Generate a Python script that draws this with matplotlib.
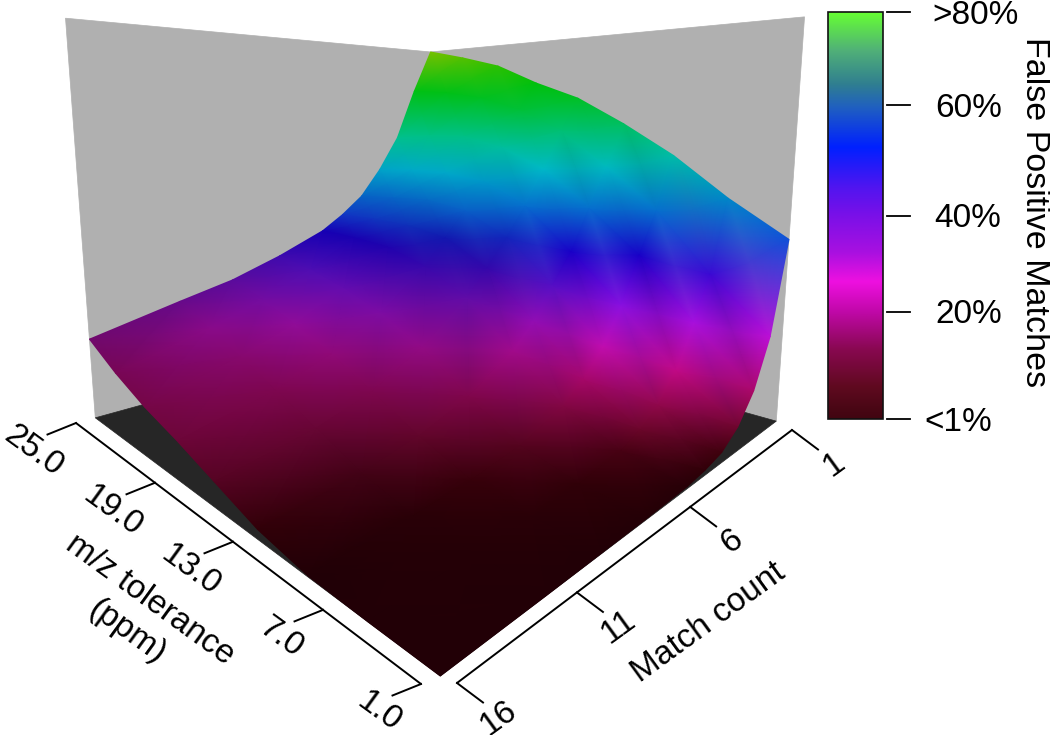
import matplotlib
matplotlib.use("Agg")
import matplotlib.pyplot as plt
from matplotlib.colors import LinearSegmentedColormap
from matplotlib.patches import Polygon, Rectangle
import numpy as np

plt.rcParams["font.family"] = ["Liberation Sans", "DejaVu Sans"]

# --- values ---
tolerance = [25, 22, 19, 16, 13, 10, 7, 4, 1]
match_count = [1, 2, 3, 4, 5, 6, 7, 9, 11, 13, 16]

# surface height, fraction of the box: rows follow match_count, columns follow tolerance
height = np.array([
    [1.00, 0.97, 0.935, 0.875, 0.825, 0.75, 0.665, 0.56, 0.47],
    [0.86, 0.85, 0.83, 0.79, 0.73, 0.63, 0.52, 0.37, 0.24],
    [0.70, 0.71, 0.71, 0.68, 0.62, 0.52, 0.41, 0.26, 0.125],
    [0.595, 0.60, 0.60, 0.58, 0.52, 0.41, 0.29, 0.155, 0.06],
    [0.51, 0.515, 0.52, 0.50, 0.44, 0.33, 0.20, 0.09, 0.025],
    [0.455, 0.455, 0.45, 0.43, 0.365, 0.25, 0.135, 0.055, 0.012],
    [0.41, 0.405, 0.395, 0.36, 0.30, 0.19, 0.09, 0.03, 0.005],
    [0.35, 0.33, 0.30, 0.26, 0.20, 0.115, 0.045, 0.012, 0.002],
    [0.30, 0.27, 0.23, 0.185, 0.13, 0.07, 0.022, 0.006, 0.001],
    [0.265, 0.22, 0.18, 0.135, 0.09, 0.04, 0.01, 0.002, 0.0],
    [0.21, 0.16, 0.12, 0.09, 0.055, 0.02, 0.002, 0.0, 0.0],
])

# how dark the lighting makes each point of the surface
shade = np.array([
    [1.00, 1.00, 1.00, 1.00, 1.00, 1.00, 1.00, 1.00, 1.00],
    [1.00, 1.00, 1.00, 1.00, 1.00, 1.00, 1.00, 1.00, 1.00],
    [1.00, 1.00, 1.00, 1.00, 1.00, 1.00, 1.00, 1.00, 1.00],
    [1.00, 1.00, 1.00, 1.00, 1.00, 1.00, 1.00, 1.00, 1.00],
    [0.95, 0.95, 0.95, 0.95, 0.90, 0.88, 0.95, 1.00, 1.00],
    [0.92, 0.90, 0.88, 0.85, 0.80, 0.82, 0.92, 1.00, 1.00],
    [0.90, 0.88, 0.85, 0.80, 0.75, 0.80, 0.90, 1.00, 1.00],
    [0.80, 0.80, 0.78, 0.74, 0.72, 0.78, 0.90, 1.00, 1.00],
    [0.70, 0.72, 0.72, 0.72, 0.72, 0.78, 0.90, 1.00, 1.00],
    [0.62, 0.66, 0.68, 0.70, 0.72, 0.78, 0.90, 1.00, 1.00],
    [0.55, 0.62, 0.70, 0.75, 0.80, 0.85, 0.90, 1.00, 1.00],
])

tol_ticks = [25.0, 19.0, 13.0, 7.0, 1.0]
tol_tick_pos = [0.0, 0.229, 0.455, 0.716, 1.0]
match_ticks = [16, 11, 6, 1]
match_tick_pos = [0.0, 0.358, 0.696, 1.0]
bar_labels = ["<1%", "20%", "40%", "60%", ">80%"]
bar_label_pos = [0.0, 0.263, 0.50, 0.771, 1.0]

# height -> colour on the surface
surface_stops = [
    (0.00, "#220006"), (0.02, "#3a000a"), (0.07, "#800838"), (0.15, "#c00880"),
    (0.22, "#d010d0"), (0.27, "#a010e0"), (0.33, "#6010e0"), (0.41, "#1800c8"),
    (0.47, "#1050d8"), (0.55, "#0080c8"), (0.62, "#00b8c8"), (0.70, "#00c090"),
    (0.80, "#00c030"), (0.90, "#00c000"), (1.00, "#78c000"),
]
bar_stops = [
    (0.0, "#400510"), (0.08, "#600a20"), (0.17, "#880850"), (0.263, "#c008a8"),
    (0.337, "#ee10e0"), (0.41, "#a810e0"), (0.50, "#7a10e8"), (0.57, "#5015f0"),
    (0.668, "#0020ff"), (0.767, "#2060c0"), (0.824, "#307f90"), (0.906, "#50b078"),
    (1.0, "#66ff33"),
]
surface_cmap = LinearSegmentedColormap.from_list("surface", surface_stops, N=512)
bar_cmap = LinearSegmentedColormap.from_list("bar", bar_stops, N=512)

# --- camera: box corners (u=tolerance, v=match, w=height) and where they land on screen ---
CORNERS = [
    ((1, 0, 0), (95, 418)), ((0, 0, 0), (440, 676)), ((0, 1, 0), (776, 421)),
    ((1, 1, 0), (432, 325)), ((1, 0, 1), (66, 18)), ((0, 1, 1), (805, 17)),
    ((1, 1, 1), (430, 52)),
]


def fit_camera(corners):
    rows, rhs = [], []
    for (u, v, w), (x, y) in corners:
        rows.append([u, v, w, 1, 0, 0, 0, 0, -x * u, -x * v, -x * w])
        rows.append([0, 0, 0, 0, u, v, w, 1, -y * u, -y * v, -y * w])
        rhs += [x, y]
    p = np.linalg.lstsq(np.array(rows, float), np.array(rhs, float), rcond=None)[0]
    return np.append(p, 1).reshape(3, 4)


CAMERA = fit_camera(CORNERS)


def project(u, v, w):
    u, v, w = np.asarray(u, float), np.asarray(v, float), np.asarray(w, float)
    pts = [CAMERA[i, 0] * u + CAMERA[i, 1] * v + CAMERA[i, 2] * w + CAMERA[i, 3] for i in range(3)]
    return pts[0] / pts[2], pts[1] / pts[2]


def tol_to_u(t):
    return (np.asarray(t, float) - 1) / 24


def match_to_v(m):
    return (16 - np.asarray(m, float)) / 15


fig = plt.figure(figsize=(10.5, 7.35), dpi=100)
ax = fig.add_axes([0, 0, 1, 1])
ax.axis("off")

# walls and floor
for face, col in [
    ([(1, 0, 0), (1, 1, 0), (1, 1, 1), (1, 0, 1)], "#b0b0b0"),
    ([(0, 1, 0), (1, 1, 0), (1, 1, 1), (0, 1, 1)], "#b0b0b0"),
    ([(1, 0, 0), (0, 0, 0), (0, 1, 0), (1, 1, 0)], "#262626"),
]:
    xy = np.column_stack(project(*np.array(face).T))
    ax.add_patch(Polygon(xy, closed=True, facecolor=col, edgecolor=col, lw=0.5))

# surface, back to front
U, V = np.meshgrid(tol_to_u(tolerance), match_to_v(match_count))
X, Y = project(U, V, height)
rgb = surface_cmap(height)[..., :3] * shade[..., None]
ax.pcolormesh(X, Y, rgb, shading="gouraud", rasterized=True)

# tolerance axis, ticks are spaced along the drawn line
for t, f in zip(tol_ticks, tol_tick_pos):
    x, y = 76 + 345 * f, 423 + 261 * f
    ax.plot([x, x - 28.5], [y, y + 11.5], color="black", lw=1.4)
    ax.text(x - 42, y + 28, f"{t:.1f}", fontsize=24, rotation=-36, ha="center", va="center",
            rotation_mode="anchor")
ax.plot([76, 421], [423, 684], color="black", lw=1.4, solid_capstyle="round")
ax.text(150, 600, "m/z tolerance", fontsize=24, rotation=-36, ha="center", va="center",
        rotation_mode="anchor")
ax.text(127, 632, "(ppm)", fontsize=24, rotation=-36, ha="center", va="center",
        rotation_mode="anchor")

# match axis
for m, f in zip(match_ticks, match_tick_pos):
    x, y = 457 + 335 * f, 683 - 253 * f
    ax.plot([x, x + 26], [y, y + 19.5], color="black", lw=1.4)
    ax.text(x + 42, y + 35, str(m), fontsize=24, rotation=36, ha="center", va="center",
            rotation_mode="anchor")
ax.plot([457, 792], [683, 430], color="black", lw=1.4, solid_capstyle="round")
ax.text(708, 623, "Match count", fontsize=24, rotation=36, ha="center", va="center",
        rotation_mode="anchor")

# colour bar
grad = np.linspace(1, 0, 512).reshape(-1, 1)
ax.imshow(grad, cmap=bar_cmap, extent=(828, 883, 419, 12), aspect="auto", vmin=0, vmax=1,
          zorder=2)
ax.add_patch(Rectangle((828, 12), 55, 407, fill=False, edgecolor="#111111", lw=1.2, zorder=3))
label_x = [924, 935, 934, 935, 932]
for pos, lab, lx in zip(bar_label_pos, bar_labels, label_x):
    y = 419 - 407 * pos
    ax.plot([887, 910], [y, y], color="black", lw=1.3)
    ax.text(lx, y + 3, lab, fontsize=24, ha="left", va="center")
ax.text(1034, 212, "False Positive Matches", fontsize=24.5, rotation=-90, ha="center", va="center")

ax.set_xlim(0, 1050)
ax.set_ylim(735, 0)
fig.savefig("out.png", dpi=100, facecolor="white")
